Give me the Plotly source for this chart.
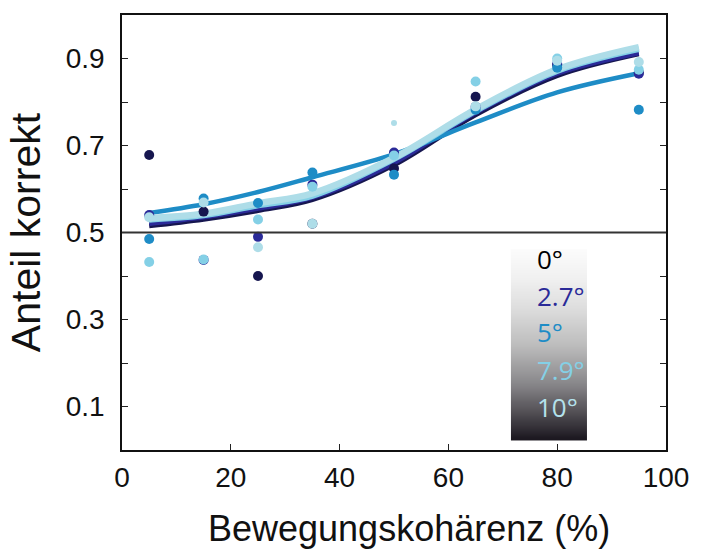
import plotly.graph_objects as go
import numpy as np

# ---- data ----
coherence = [5, 15, 25, 35, 50, 65, 80, 95]
series_names = ["0°", "2.7°", "5°", "7.9°", "10°"]
pts_0 = [0.678, 0.548, 0.400, 0.520, 0.647, 0.812, 0.885, 0.868]
pts_27 = [0.540, 0.437, 0.490, 0.610, 0.684, 0.789, 0.888, 0.865]
pts_5 = [0.485, 0.578, 0.568, 0.638, 0.633, 0.782, 0.879, 0.782]
pts_79 = [0.432, 0.438, 0.530, 0.605, 0.677, 0.847, 0.900, 0.874]
pts_10 = [0.535, 0.569, 0.466, 0.520, 0.752, 0.790, 0.895, 0.892]

fit_0 = [0.515, 0.530, 0.550, 0.575, 0.655, 0.770, 0.860, 0.910]
fit_27 = [0.520, 0.535, 0.555, 0.580, 0.660, 0.775, 0.865, 0.912]
fit_5 = [0.545, 0.565, 0.593, 0.627, 0.680, 0.753, 0.822, 0.866]
fit_79 = [0.530, 0.540, 0.563, 0.585, 0.670, 0.780, 0.872, 0.922]
fit_10 = [0.533, 0.543, 0.567, 0.590, 0.672, 0.783, 0.875, 0.926]

x_ticks = [0, 20, 40, 60, 80, 100]
y_ticks = [0.1, 0.3, 0.5, 0.7, 0.9]

colors = ["#16164f", "#2a2a98", "#1e8cc6", "#84d0e6", "#aedde8"]
label_colors = ["#000000", "#2a2a98", "#1e8cc6", "#84d0e6", "#b4e2ec"]
line_widths = [4.5, 4.5, 4.5, 6.5, 6.5]
pts = [pts_0, pts_27, pts_5, pts_79, pts_10]
fits = [fit_0, fit_27, fit_5, fit_79, fit_10]
marker_sizes = [[10] * 8, [10] * 8, [10] * 8, [10] * 8, [10, 10, 10, 10, 6, 10, 10, 10]]

fig = go.Figure()

# gradient legend box (heatmap)
n = 60
box_x = [71.5, 85.4]
box_y = list(np.linspace(0.023, 0.461, n + 1))
zvals = [[i / (n - 1)] for i in range(n)]
fig.add_trace(go.Heatmap(
    x=box_x, y=box_y, z=zvals, zsmooth="best", showscale=False, hoverinfo="skip",
    colorscale=[[0.0, "#1c1820"], [0.12, "#4a474d"], [0.3, "#8a898c"],
                [0.5, "#bdbdbd"], [0.7, "#dedede"], [0.85, "#f0f0f0"], [1.0, "#fbfbfb"]],
))

for name, f, c, w in zip(series_names, fits, colors, line_widths):
    fig.add_trace(go.Scatter(x=coherence, y=f, mode="lines", name=name,
                             line=dict(color=c, width=w, shape="spline", smoothing=1.0),
                             showlegend=False, hoverinfo="skip"))

for name, p, c, s in zip(series_names, pts, colors, marker_sizes):
    fig.add_trace(go.Scatter(x=coherence, y=p, mode="markers", name=name,
                             marker=dict(color=c, size=s, opacity=1, line=dict(width=0)),
                             opacity=1, showlegend=False))

# legend labels
label_y = [0.438, 0.353, 0.272, 0.185, 0.100]
for name, ly, lc in zip(series_names, label_y, label_colors):
    fig.add_annotation(x=76.0, y=ly, xref="x", yref="y", text=name, showarrow=False,
                       xanchor="left", yanchor="middle",
                       font=dict(family="Open Sans", size=26, color=lc))

fig.add_shape(type="line", xref="paper", yref="y", x0=0, x1=1, y0=0.5, y1=0.5,
              line=dict(color="#333333", width=1.8))

font_main = "Liberation Sans, Arial, sans-serif"

# x-axis title as annotation (slightly right of centre, as in the original)
fig.add_annotation(x=0.528, y=-0.181, xref="paper", yref="paper",
                   text="Bewegungskohärenz (%)", showarrow=False,
                   xanchor="center", yanchor="middle",
                   font=dict(family=font_main, size=36, color="#111111"))

fig.update_layout(
    width=701, height=552,
    margin=dict(l=122, r=28, t=15, b=102),
    plot_bgcolor="white", paper_bgcolor="white",
    font=dict(family=font_main, color="#111111"),
    xaxis=dict(range=[0, 100], tickvals=x_ticks, ticks="inside", ticklen=6, tickwidth=1,
               tickcolor="#222", showline=True, linecolor="#111", linewidth=1.5, mirror=True,
               showgrid=False, zeroline=False, tickfont=dict(size=28), ticklabelstandoff=2),
    yaxis=dict(range=[0, 1], tickvals=y_ticks, ticks="inside", ticklen=6, tickwidth=1,
               tickcolor="#222", showline=True, linecolor="#111", linewidth=1.5, mirror="ticks",
               showgrid=False, zeroline=False, tickfont=dict(size=28), ticklabelstandoff=10,
               minor=dict(tickvals=[0.2, 0.4, 0.6, 0.8], ticks="inside", ticklen=6, tickcolor="#222"),
               title=dict(text="Anteil korrekt", font=dict(size=41), standoff=12)),
)

fig.write_html("out.html")
